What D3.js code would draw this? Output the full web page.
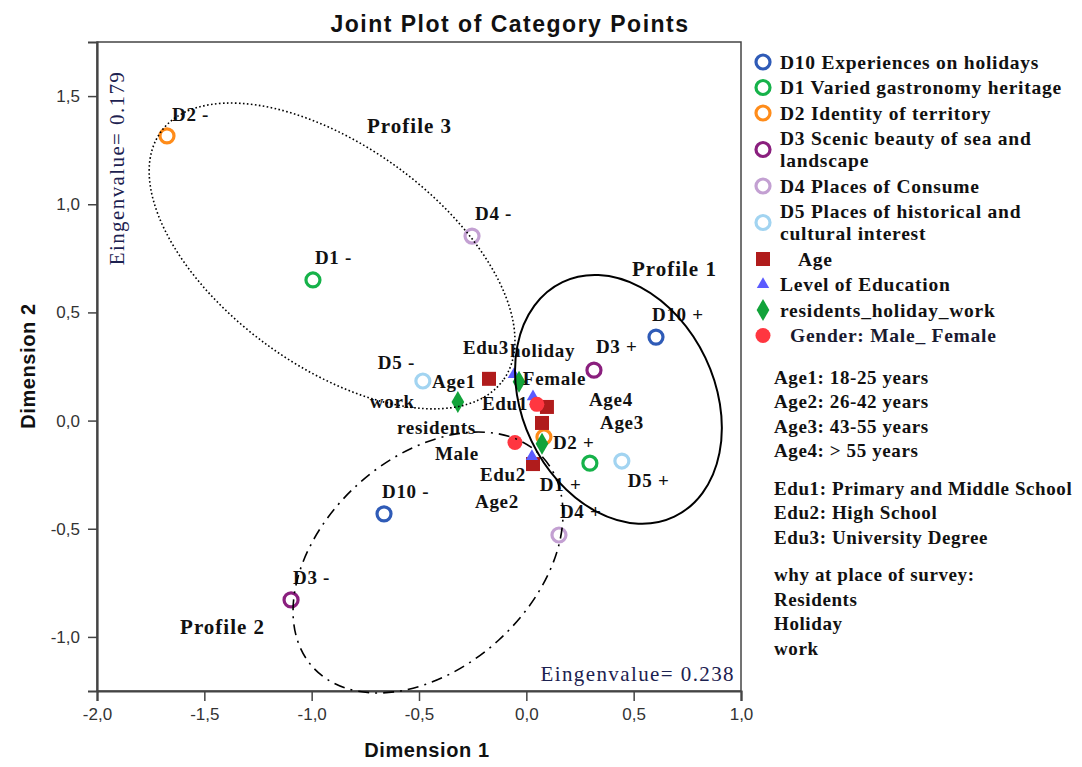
<!DOCTYPE html>
<html>
<head>
<meta charset="utf-8">
<script src="https://cdn.jsdelivr.net/npm/d3@7"></script>
<style>
  body { margin: 0; background: #fff; }
  svg { display: block; }
</style>
</head>
<body>
<svg id="chart" width="1082" height="767"></svg>
<script>
'use strict';

// category points: questions D10, D1..D5 (answer "-" and "+")
const questions     = ['D10', 'D1', 'D2', 'D3', 'D4', 'D5'];
const questionNames = [
  ['D10 Experiences on holidays'],
  ['D1  Varied gastronomy heritage'],
  ['D2 Identity of territory'],
  ['D3 Scenic beauty of sea and', 'landscape'],
  ['D4 Places of Consume'],
  ['D5 Places of historical and', 'cultural interest']
];
const questionColors = ['#2f5bb7', '#16b24a', '#ff8c1a', '#8a1f7e', '#c3a0d2', '#a2d4f1'];
const minusX = [-0.663, -0.994, -1.674, -1.096, -0.253, -0.482];
const minusY = [-0.431,  0.650,  1.316, -0.829,  0.853,  0.183];
const plusX  = [ 0.604,  0.296,  0.082,  0.315,  0.152,  0.445];
const plusY  = [ 0.386, -0.197, -0.076,  0.233, -0.529, -0.187];

// supplementary variables
const ageCats    = ['Age1', 'Age2', 'Age3', 'Age4'];
const ageX       = [-0.174, 0.031, 0.073, 0.096];
const ageY       = [ 0.193, -0.201, -0.011, 0.063];
const eduCats    = ['Edu1', 'Edu2', 'Edu3'];
const eduX       = [0.031, 0.026, -0.058];
const eduY       = [0.111, -0.166, 0.213];
const whyCats    = ['residents', 'holiday', 'work'];
const whyX       = [0.073, -0.034, -0.319];
const whyY       = [-0.107, 0.180, 0.086];
const genderCats = ['Male', 'Female'];
const genderX    = [-0.053, 0.049];
const genderY    = [-0.101, 0.075];

// profile ellipses (data units), angle in degrees
const profileNames = ['Profile 1', 'Profile 2', 'Profile 3'];
const profileLabelX = [0.492, -1.613, -0.742];
const profileLabelY = [0.669, -0.986, 1.330];
const ellipseCx = [0.429, -0.458, -0.905];
const ellipseCy = [0.098, -0.656, 0.761];
const ellipseRx = [0.605, 0.725, 0.985];
const ellipseRy = [0.449, 0.489, 0.513];
const ellipseAngle = [64.5, -42.4, 36];
const ellipseDash = [null, '11,6,2,6', '1.6,2.4'];

const xTicks = [-2, -1.5, -1, -0.5, 0, 0.5, 1];
const yTicks = [-1, -0.5, 0, 0.5, 1, 1.5];

const notes = [
  ['Age1: 18-25 years', 'Age2: 26-42 years', 'Age3: 43-55 years', 'Age4: > 55 years'],
  ['Edu1: Primary and Middle School', 'Edu2: High School', 'Edu3: University Degree'],
  ['why at place of survey:', 'Residents', 'Holiday', 'work']
];

// label placement relative to its point (left edge, baseline)
const labelPos = {
  'D2 -': [5, -15],   'D4 -': [3, -16],   'D1 -': [2, -16],   'D5 -': [-45, -12],
  'D10 -': [-2, -16], 'D3 -': [2, -16],   'D10 +': [-4, -16], 'D3 +': [2, -17],
  'D2 +': [9, 12],    'D5 +': [6, 26],    'D1 +': [-50, 28],  'D4 +': [1, -17],
  'Age1': [-57, 9],   'Age2': [-58, 44],  'Age3': [58, 6],    'Age4': [42, -1],
  'Edu1': [-51, 13],  'Edu2': [-52, 25],  'Edu3': [-51, -21],
  'residents': [-145, -10], 'holiday': [-9, -25], 'work': [-88, 6],
  'Male': [-80, 18],  'Female': [-14, -19]
};

const serif = '"Liberation Serif", "Times New Roman", serif';
const sans  = '"Liberation Sans", Arial, sans-serif';

const plot = { left: 97, right: 741, top: 42, bottom: 691 };

const x = d3.scaleLinear().domain([-2, 1]).range([plot.left, plot.right]);
const y = d3.scaleLinear().domain([-1.25, 1.75]).range([plot.bottom, plot.top]);

const svg = d3.select('#chart');

// title
svg.append('text')
    .attr('x', 510).attr('y', 32)
    .attr('text-anchor', 'middle')
    .style('font', `bold 23px ${sans}`)
    .style('letter-spacing', '1.5px')
    .style('fill', '#111')
    .text('Joint Plot of Category Points');

// frame
svg.append('rect')
    .attr('x', plot.left).attr('y', plot.top)
    .attr('width', plot.right - plot.left).attr('height', plot.bottom - plot.top)
    .style('fill', 'none')
    .style('stroke', '#444')
    .style('stroke-width', 1.5);

const fmt = (d) => d.toFixed(1).replace('.', ',');

const xAxis = svg.append('g')
    .attr('transform', `translate(0,${plot.bottom})`)
    .call(d3.axisBottom(x).tickValues(xTicks).tickFormat(fmt).tickSize(10).tickPadding(7));

const yAxis = svg.append('g')
    .attr('transform', `translate(${plot.left},0)`)
    .call(d3.axisLeft(y).tickValues(yTicks).tickFormat(fmt).tickSize(9).tickPadding(8));

[xAxis, yAxis].forEach((g) => {
  g.select('.domain').style('stroke', '#444').style('stroke-width', 2.2);
  g.selectAll('.tick line').style('stroke', '#444').style('stroke-width', 1.5);
  g.selectAll('.tick text')
      .style('font', `17px ${sans}`)
      .style('fill', '#333');
});

// axis titles
svg.append('text')
    .attr('x', 427).attr('y', 757)
    .attr('text-anchor', 'middle')
    .style('font', `bold 20px ${sans}`)
    .style('letter-spacing', '0.6px')
    .style('fill', '#111')
    .text('Dimension 1');

svg.append('text')
    .attr('transform', 'translate(35,366) rotate(-90)')
    .attr('text-anchor', 'middle')
    .style('font', `bold 20px ${sans}`)
    .style('letter-spacing', '0.6px')
    .style('fill', '#111')
    .text('Dimension 2');

// eigenvalues
svg.append('text')
    .attr('x', 735).attr('y', 681)
    .attr('text-anchor', 'end')
    .style('font', `21px ${serif}`)
    .style('letter-spacing', '1.4px')
    .style('fill', '#1c2150')
    .text('Eingenvalue= 0.238');

svg.append('text')
    .attr('transform', 'translate(124,168) rotate(-90)')
    .attr('text-anchor', 'middle')
    .style('font', `21px ${serif}`)
    .style('letter-spacing', '1.4px')
    .style('fill', '#1c2150')
    .text('Eingenvalue= 0.179');

// build all points
const points = [];
questions.forEach((q, i) => {
  points.push({ label: q + ' -', x: minusX[i], y: minusY[i], type: 'q', color: questionColors[i] });
  points.push({ label: q + ' +', x: plusX[i], y: plusY[i], type: 'q', color: questionColors[i] });
});
ageCats.forEach((c, i) => points.push({ label: c, x: ageX[i], y: ageY[i], type: 'age' }));
eduCats.forEach((c, i) => points.push({ label: c, x: eduX[i], y: eduY[i], type: 'edu' }));
whyCats.forEach((c, i) => points.push({ label: c, x: whyX[i], y: whyY[i], type: 'why' }));
genderCats.forEach((c, i) => points.push({ label: c, x: genderX[i], y: genderY[i], type: 'gender' }));

const markerStyle = {
  age:    { sym: d3.symbolSquare,   size: 196, color: '#b01c1c' },
  edu:    { sym: d3.symbolTriangle, size: 66,  color: '#5b5bff' },
  why:    { sym: d3.symbolDiamond,  size: 140, color: '#12a33a' },
  gender: { sym: d3.symbolCircle,   size: 177, color: '#ff3640' }
};

function drawMarker(g, type, color) {
  if (type === 'q') {
    g.append('circle')
        .attr('r', 7)
        .style('fill', 'none')
        .style('stroke', color)
        .style('stroke-width', 3.2);
  } else {
    const m = markerStyle[type];
    g.append('path')
        .attr('d', d3.symbol().type(m.sym).size(m.size))
        .style('fill', m.color);
  }
}

const marks = svg.append('g');
points.forEach((p) => {
  const g = marks.append('g').attr('transform', `translate(${x(p.x)},${y(p.y)})`);
  drawMarker(g, p.type, p.color);
});

// point labels
svg.append('g')
  .selectAll('text')
  .data(points)
  .join('text')
    .attr('x', (d) => x(d.x) + labelPos[d.label][0])
    .attr('y', (d) => y(d.y) + labelPos[d.label][1])
    .style('font', `bold 19px ${serif}`)
    .style('letter-spacing', '0.7px')
    .style('fill', '#111')
    .text((d) => d.label);

// profile ellipses
const unit = x(1) - x(0);
profileNames.forEach((name, i) => {
  svg.append('ellipse')
      .attr('transform', `translate(${x(ellipseCx[i])},${y(ellipseCy[i])}) rotate(${ellipseAngle[i]})`)
      .attr('rx', ellipseRx[i] * unit)
      .attr('ry', ellipseRy[i] * unit)
      .style('fill', 'none')
      .style('stroke', '#000')
      .style('stroke-width', ellipseDash[i] ? 1.6 : 2)
      .style('stroke-dasharray', ellipseDash[i]);

  svg.append('text')
      .attr('x', x(profileLabelX[i]))
      .attr('y', y(profileLabelY[i]))
      .style('font', `bold 21px ${serif}`)
      .style('letter-spacing', '1px')
      .style('fill', '#111')
      .text(name);
});

// legend
const legendRows = [];
questions.forEach((q, i) => legendRows.push({ lines: questionNames[i], type: 'q', color: questionColors[i] }));
legendRows.push({ lines: ['Age'], type: 'age', indent: 18 });
legendRows.push({ lines: ['Level of Education'], type: 'edu' });
legendRows.push({ lines: ['residents_holiday_work'], type: 'why' });
legendRows.push({ lines: ['Gender: Male_ Female'], type: 'gender', indent: 10 });

const legend = svg.append('g').attr('transform', 'translate(763,0)');
let ly = 62;
legendRows.forEach((r) => {
  const h = (r.lines.length - 1) * 22;
  const g = legend.append('g').attr('transform', `translate(0,${ly + h / 2})`);
  drawMarker(g, r.type, r.color);
  r.lines.forEach((t, k) => {
    legend.append('text')
        .attr('x', 17 + (r.indent || 0))
        .attr('y', ly + k * 22)
        .attr('dy', '0.35em')
        .style('font', `bold 19.5px ${serif}`)
        .style('letter-spacing', '0.75px')
        .style('fill', r.type === 'gender' ? '#1a1a30' : '#111')
        .text(t);
  });
  ly += h + 25.5;
});

// notes
const notesG = svg.append('g').attr('transform', 'translate(774,0)');
let ny = 377;
notes.forEach((block) => {
  block.forEach((t) => {
    notesG.append('text')
        .attr('y', ny)
        .attr('dy', '0.35em')
        .style('font', `bold 19px ${serif}`)
        .style('letter-spacing', '0.6px')
        .style('fill', '#111')
        .text(t);
    ny += 24.5;
  });
  ny += 13;
});
</script>
</body>
</html>
